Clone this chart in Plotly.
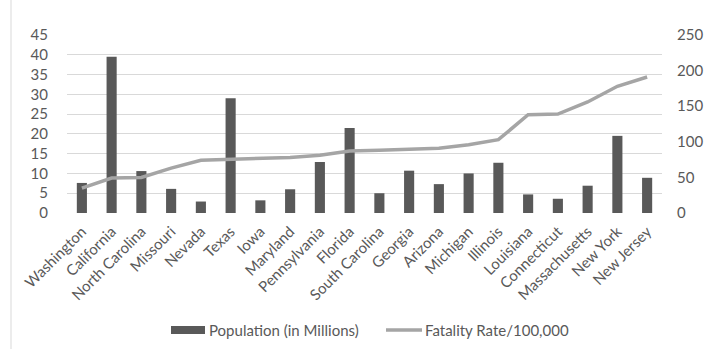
import plotly.graph_objects as go

states = ["Washington", "California", "North Carolina", "Missouri", "Nevada", "Texas", "Iowa",
          "Maryland", "Pennsylvania", "Florida", "South Carolina", "Georgia", "Arizona", "Michigan",
          "Illinois", "Louisiana", "Connecticut", "Massachusetts", "New York", "New Jersey"]
population = [7.6, 39.5, 10.6, 6.1, 2.9, 29.0, 3.2, 6.0, 12.9, 21.5, 5.0, 10.7, 7.3, 10.0,
              12.7, 4.7, 3.6, 6.9, 19.5, 8.9]
fatality = [35, 49, 50, 63, 74, 75, 76, 78, 81, 87, 88, 89, 91, 96, 103, 138, 139, 156, 178, 191]

left_ticks = list(range(0, 50, 5))
right_ticks = list(range(0, 300, 50))
series_names = ["Population (in Millions)", "Fatality Rate/100,000"]

txt = "#595959"
bar_color = "#595959"
line_color = "#A5A5A5"
font_family = "Lato, Liberation Sans, Arial, sans-serif"

# plot area geometry (pixels)
L, R, T, B = 67, 53, 35, 136
W, H = 715, 349
pw, ph = W - L - R, H - T - B


def px_x(px):
    return (px - L) / pw


def px_y(py):
    return (H - B - py) / ph


fig = go.Figure()
fig.add_trace(go.Bar(x=states, y=population, name=series_names[0],
                     marker=dict(color=bar_color, line=dict(width=0)), yaxis="y",
                     showlegend=False))
fig.add_trace(go.Scatter(x=states, y=fatality, name=series_names[1], mode="lines",
                         line=dict(color=line_color, width=3.5), yaxis="y2",
                         showlegend=False))

legend_y = px_y(330)
shapes = [
    dict(type="line", xref="paper", yref="paper",
         x0=px_x(11), x1=px_x(11), y0=px_y(H), y1=px_y(0),
         line=dict(color="#D9D9D9", width=1)),
    dict(type="rect", xref="paper", yref="paper",
         x0=px_x(171), x1=px_x(205), y0=px_y(334), y1=px_y(326),
         fillcolor=bar_color, line=dict(width=0)),
    dict(type="line", xref="paper", yref="paper",
         x0=px_x(386), x1=px_x(422), y0=legend_y, y1=legend_y,
         line=dict(color=line_color, width=3.5)),
]
annotations = [
    dict(xref="paper", yref="paper", x=px_x(207), y=legend_y, xanchor="left", yanchor="middle",
         text=series_names[0], showarrow=False, font=dict(size=15, color=txt)),
    dict(xref="paper", yref="paper", x=px_x(423), y=legend_y, xanchor="left", yanchor="middle",
         text=series_names[1], showarrow=False, font=dict(size=15, color=txt)),
]

fig.update_layout(
    width=W, height=H,
    margin=dict(l=L, r=R, t=T, b=B),
    paper_bgcolor="white", plot_bgcolor="white",
    font=dict(family=font_family, color=txt, size=12),
    bargap=0.66,
    showlegend=False,
    xaxis=dict(tickangle=-45, showgrid=False, showline=False, ticks="",
               tickfont=dict(size=15, color=txt), ticklabelstandoff=6),
    yaxis=dict(range=[0, 45], tickvals=left_ticks, showgrid=True, gridcolor="#D9D9D9",
               gridwidth=1, zeroline=False, showline=False, ticks="",
               tickfont=dict(size=15, color=txt), ticklabelstandoff=18),
    yaxis2=dict(range=[0, 250], tickvals=right_ticks, overlaying="y", side="right",
                showgrid=False, zeroline=False, showline=False, ticks="",
                tickfont=dict(size=15, color=txt), ticklabelstandoff=14),
    shapes=shapes,
    annotations=annotations,
)

fig.write_html("out.html")
